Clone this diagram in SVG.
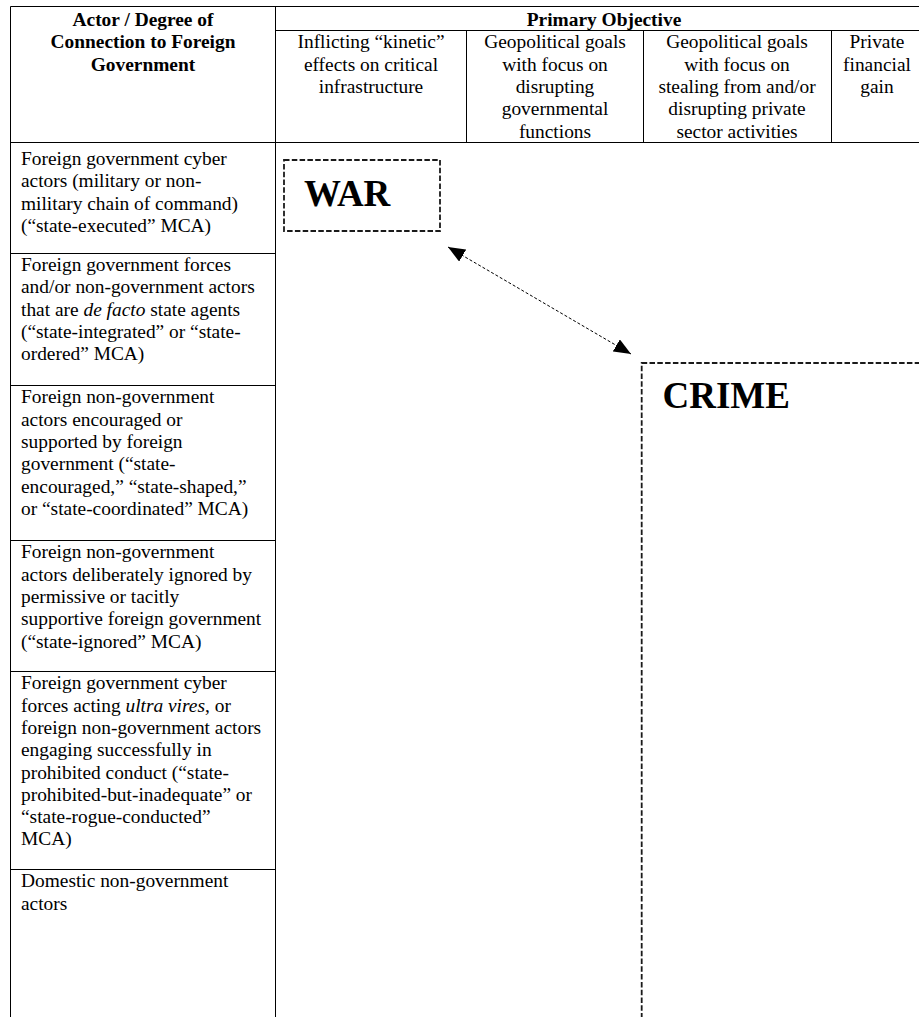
<svg xmlns="http://www.w3.org/2000/svg" width="919" height="1017" viewBox="0 0 919 1017" font-family="Liberation Serif">
<style>
  text { font-family: 'Liberation Serif', serif; font-size: 19.4px; fill: #000; }
  .b { font-weight: bold; }
  .c { text-anchor: middle; }
  .big { font-size: 37px; font-weight: bold; }
  .grid { stroke: #000; stroke-width: 1; fill: none; }
  .dbox { fill: none; stroke: #1a1a1a; stroke-width: 1.8; stroke-dasharray: 5.5 2.3; }
  .conn { stroke: #000; stroke-width: 1; stroke-dasharray: 3 2; fill: none; }
  .i { font-style: italic; }
</style>
<defs>
  <marker id="ah" markerUnits="userSpaceOnUse" markerWidth="18" markerHeight="15" refX="17" refY="7" orient="auto-start-reverse" viewBox="0 0 18 15">
    <path d="M0,0 L17,7 L0,14 z" fill="#000"/>
  </marker>
</defs>
<rect width="919" height="1017" fill="#fff"/>

<g id="table-grid" class="grid">
  <line x1="10.5" y1="6.5" x2="919" y2="6.5"/>
  <line x1="10.5" y1="6.5" x2="10.5" y2="1017"/>
  <line x1="275.5" y1="6.5" x2="275.5" y2="1017"/>
  <line x1="275.5" y1="30.5" x2="919" y2="30.5"/>
  <line x1="10.5" y1="142.5" x2="919" y2="142.5"/>
  <line x1="466.5" y1="30.5" x2="466.5" y2="142.5"/>
  <line x1="643.5" y1="30.5" x2="643.5" y2="142.5"/>
  <line x1="831.5" y1="30.5" x2="831.5" y2="142.5"/>
  <line x1="10.5" y1="253.5" x2="275.5" y2="253.5"/>
  <line x1="10.5" y1="385.5" x2="275.5" y2="385.5"/>
  <line x1="10.5" y1="540.5" x2="275.5" y2="540.5"/>
  <line x1="10.5" y1="671.5" x2="275.5" y2="671.5"/>
  <line x1="10.5" y1="869.5" x2="275.5" y2="869.5"/>
</g>

<g id="header-actor">
  <text class="b c"><tspan x="143" y="26">Actor / Degree of</tspan><tspan x="143" y="48.3">Connection to Foreign</tspan><tspan x="143" y="70.6">Government</tspan></text>
</g>
<g id="header-primary">
  <text class="b c" x="604" y="26">Primary Objective</text>
</g>
<g id="header-kinetic">
  <text class="c"><tspan x="371" y="48.3">Inflicting “kinetic”</tspan><tspan x="371" y="70.6">effects on critical</tspan><tspan x="371" y="92.9">infrastructure</tspan></text>
</g>
<g id="header-geo-gov">
  <text class="c"><tspan x="555" y="48.3">Geopolitical goals</tspan><tspan x="555" y="70.6">with focus on</tspan><tspan x="555" y="92.9">disrupting</tspan><tspan x="555" y="115.2">governmental</tspan><tspan x="555" y="137.5">functions</tspan></text>
</g>
<g id="header-geo-private">
  <text class="c"><tspan x="737" y="48.3">Geopolitical goals</tspan><tspan x="737" y="70.6">with focus on</tspan><tspan x="737" y="92.9">stealing from and/or</tspan><tspan x="737" y="115.2">disrupting private</tspan><tspan x="737" y="137.5">sector activities</tspan></text>
</g>
<g id="header-financial">
  <text class="c"><tspan x="877" y="48.3">Private</tspan><tspan x="877" y="70.6">financial</tspan><tspan x="877" y="92.9">gain</tspan></text>
</g>

<g id="row-state-executed">
  <text><tspan x="21" y="165">Foreign government cyber</tspan><tspan x="21" y="187.3">actors (military or non-</tspan><tspan x="21" y="209.6">military chain of command)</tspan><tspan x="21" y="231.9">(“state-executed” MCA)</tspan></text>
</g>
<g id="row-state-integrated">
  <text><tspan x="21" y="271">Foreign government forces</tspan><tspan x="21" y="293.3">and/or non-government actors</tspan><tspan x="21" y="315.6">that are <tspan class="i">de facto</tspan> state agents</tspan><tspan x="21" y="337.9">(“state-integrated” or “state-</tspan><tspan x="21" y="360.2">ordered” MCA)</tspan></text>
</g>
<g id="row-state-encouraged">
  <text><tspan x="21" y="403.3">Foreign non-government</tspan><tspan x="21" y="425.6">actors encouraged or</tspan><tspan x="21" y="447.9">supported by foreign</tspan><tspan x="21" y="470.2">government (“state-</tspan><tspan x="21" y="492.5">encouraged,” “state-shaped,”</tspan><tspan x="21" y="514.8">or “state-coordinated” MCA)</tspan></text>
</g>
<g id="row-state-ignored">
  <text><tspan x="21" y="558.3">Foreign non-government</tspan><tspan x="21" y="580.6">actors deliberately ignored by</tspan><tspan x="21" y="602.9">permissive or tacitly</tspan><tspan x="21" y="625.2">supportive foreign government</tspan><tspan x="21" y="647.5">(“state-ignored” MCA)</tspan></text>
</g>
<g id="row-state-prohibited">
  <text><tspan x="21" y="689.3">Foreign government cyber</tspan><tspan x="21" y="711.6">forces acting <tspan class="i">ultra vires</tspan>, or</tspan><tspan x="21" y="733.9">foreign non-government actors</tspan><tspan x="21" y="756.2">engaging successfully in</tspan><tspan x="21" y="778.5">prohibited conduct (“state-</tspan><tspan x="21" y="800.8">prohibited-but-inadequate” or</tspan><tspan x="21" y="823.1">“state-rogue-conducted”</tspan><tspan x="21" y="845.4">MCA)</tspan></text>
</g>
<g id="row-domestic">
  <text><tspan x="21" y="887.3">Domestic non-government</tspan><tspan x="21" y="909.6">actors</tspan></text>
</g>

<g id="node-war">
  <rect class="dbox" x="284" y="160" width="156" height="71"/>
  <text class="big" x="304" y="205.5">WAR</text>
</g>
<g id="node-crime">
  <rect class="dbox" x="641.7" y="363" width="400" height="700"/>
  <text class="big" x="662.5" y="407.5">CRIME</text>
</g>

<g id="connectors">
  <line class="conn" x1="448" y1="247" x2="631" y2="354" marker-start="url(#ah)" marker-end="url(#ah)"/>
</g>
</svg>
